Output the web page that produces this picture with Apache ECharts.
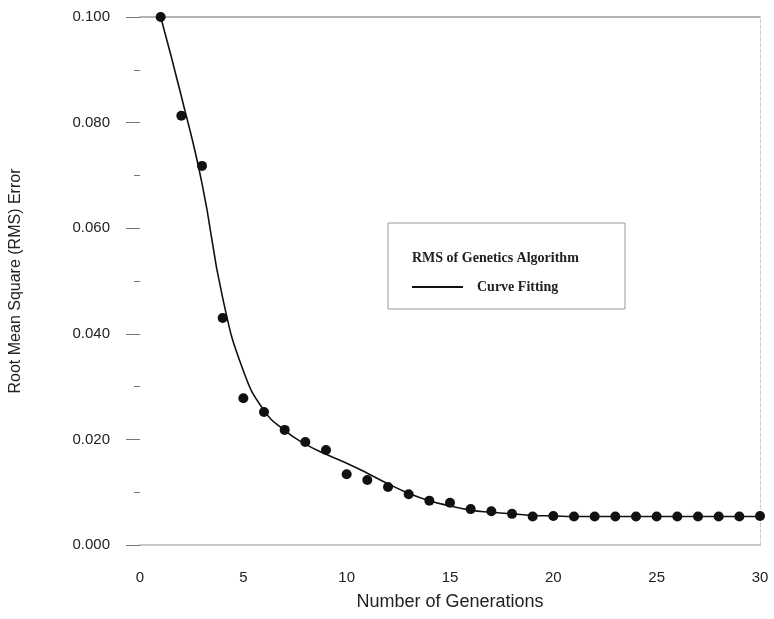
<!DOCTYPE html>
<html>
<head>
<meta charset="utf-8">
<script src="https://cdn.jsdelivr.net/npm/echarts@6/dist/echarts.min.js"></script>
<style>html,body{margin:0;padding:0;background:#fff;}#c{width:774px;height:619px;}</style>
</head>
<body>
<div id="c"></div>
<script>
const generations = [1,2,3,4,5,6,7,8,9,10,11,12,13,14,15,16,17,18,19,20,21,22,23,24,25,26,27,28,29,30];
const rmsGA = [0.1000,0.0813,0.0718,0.0430,0.0278,0.0252,0.0218,0.0195,0.0180,0.0134,0.0123,0.0110,0.0096,0.0084,0.0080,0.0068,0.0064,0.0059,0.0054,0.0055,0.0054,0.0054,0.0054,0.0054,0.0054,0.0054,0.0054,0.0054,0.0054,0.0055];
const curveFit = [0.1000,0.0850,0.0685,0.0468,0.0330,0.0255,0.0217,0.0191,0.0172,0.0155,0.0136,0.0116,0.0098,0.0084,0.0074,0.0066,0.0062,0.0059,0.0056,0.0055,0.0054,0.0054,0.0054,0.0054,0.0054,0.0054,0.0054,0.0054,0.0054,0.0054];

const chart = echarts.init(document.getElementById('c'), null, {renderer: 'canvas'});
chart.setOption({
  animation: false,
  backgroundColor: '#fff',
  grid: {left: 140, right: 14, top: 17, bottom: 74},
  xAxis: [{
    type: 'value', min: 0, max: 30, interval: 5, position: 'bottom',
    name: 'Number of Generations', nameLocation: 'middle', nameGap: 48,
    nameTextStyle: {fontFamily: 'Liberation Sans', fontSize: 18, color: '#222'},
    axisLine: {show: true, onZero: false, lineStyle: {color: '#c8c8c8', width: 2}},
    axisTick: {show: false},
    splitLine: {show: false},
    axisLabel: {margin: 25, fontFamily: 'Liberation Sans', fontSize: 15, color: '#222'}
  }, {
    type: 'value', min: 0, max: 30, position: 'top',
    axisLine: {show: true, onZero: false, lineStyle: {color: '#999', width: 1.5}},
    axisTick: {show: false}, axisLabel: {show: false}, splitLine: {show: false}
  }],
  yAxis: [{
    type: 'value', min: 0, max: 0.1, interval: 0.02,
    name: 'Root Mean Square (RMS) Error', nameLocation: 'middle', nameGap: 116,
    nameTextStyle: {fontFamily: 'Liberation Sans', fontSize: 16, color: '#222'},
    axisLine: {show: false, onZero: false},
    axisTick: {show: true, inside: false, length: 14, lineStyle: {color: '#777'}},
    minorTick: {show: true, splitNumber: 2, length: 6, lineStyle: {color: '#777'}},
    splitLine: {show: false},
    axisLabel: {margin: 30, fontFamily: 'Liberation Sans', fontSize: 15, color: '#222',
      formatter: v => v.toFixed(3)}
  }, {
    type: 'value', min: 0, max: 0.1, position: 'right',
    axisLine: {show: true, onZero: false, lineStyle: {color: '#ccc', type: 'dashed', width: 1}},
    axisTick: {show: false}, axisLabel: {show: false}, splitLine: {show: false}
  }],
  legend: [{
    data: ['RMS of Genetics Algorithm'], left: 402, top: 246,
    icon: 'none', itemWidth: 0, itemHeight: 0,
    textStyle: {fontFamily: 'Liberation Serif', fontWeight: 'bold', fontSize: 14, color: '#222'}
  }, {
    data: [{name: 'Curve Fitting', icon: 'rect'}], left: 407, top: 275,
    itemWidth: 51, itemHeight: 2,
    textStyle: {fontFamily: 'Liberation Serif', fontWeight: 'bold', fontSize: 14, color: '#222', padding: [0,0,0,9]}
  }],
  graphic: [{
    type: 'rect', z: 1,
    shape: {x: 388, y: 223, width: 237, height: 86},
    style: {fill: 'rgba(0,0,0,0)', stroke: '#999', lineWidth: 1}
  }],
  series: [{
    name: 'Curve Fitting', type: 'line', smooth: 0.5, showSymbol: false,
    data: generations.map((g, i) => [g, curveFit[i]]),
    lineStyle: {color: '#111', width: 1.6}, itemStyle: {color: '#111'}, z: 2
  }, {
    name: 'RMS of Genetics Algorithm', type: 'scatter', symbol: 'circle', symbolSize: 10,
    data: generations.map((g, i) => [g, rmsGA[i]]),
    itemStyle: {color: '#111', opacity: 1}, z: 3
  }]
});
</script>
</body>
</html>
